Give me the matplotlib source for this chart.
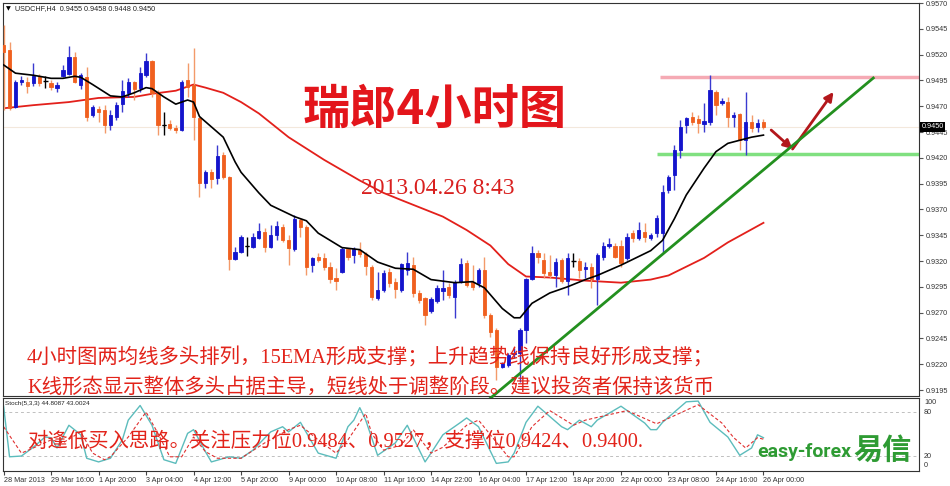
import numpy as np
import matplotlib.pyplot as plt
import matplotlib.transforms as mtrans

plt.rcParams['font.family'] = ['Liberation Sans', 'Noto Sans CJK SC', 'DejaVu Sans']

# USDCHF H4 candles
opens = [0.9529, 0.9524, 0.9469, 0.9493, 0.9493, 0.9492, 0.9498, 0.9494, 0.9492, 0.9488,
         0.9499, 0.9501, 0.9518, 0.9491, 0.9498, 0.9461, 0.9467, 0.9466, 0.9452, 0.9460,
         0.9472, 0.9483, 0.9493, 0.9488, 0.9500, 0.9514, 0.9483, 0.9452, 0.9453, 0.9449,
         0.9447, 0.9495, 0.9491, 0.9459, 0.9396, 0.9406, 0.9400, 0.9423, 0.9401, 0.9322,
         0.9329, 0.9335, 0.9334, 0.9342, 0.9348, 0.9334, 0.9345, 0.9353, 0.9340, 0.9332,
         0.9360, 0.9353, 0.9316, 0.9324, 0.9323, 0.9314, 0.9304, 0.9309, 0.9332, 0.9326,
         0.9331, 0.9327, 0.9314, 0.9284, 0.9292, 0.9309, 0.9300, 0.9292, 0.9311, 0.9316,
         0.9289, 0.9284, 0.9272, 0.9281, 0.9291, 0.9295, 0.9285, 0.9300, 0.9318, 0.9300,
         0.9299, 0.9311, 0.9268, 0.9253, 0.9217, 0.9219, 0.9230, 0.9231, 0.9253, 0.9303,
         0.9328, 0.9321, 0.9309, 0.9306, 0.9321, 0.9301, 0.9320, 0.9320, 0.9312, 0.9314,
         0.9303, 0.9324, 0.9335, 0.9335, 0.9335, 0.9323, 0.9347, 0.9342, 0.9348, 0.9342,
         0.9347, 0.9347, 0.9389, 0.9403, 0.9428, 0.9452, 0.9460, 0.9458, 0.9453, 0.9455,
         0.9484, 0.9473, 0.9474, 0.9460, 0.9462, 0.9437, 0.9455, 0.9450, 0.9455]
highs = [0.9549, 0.9532, 0.9495, 0.9499, 0.9498, 0.9512, 0.9501, 0.9499, 0.9495, 0.9493,
         0.9510, 0.9528, 0.9523, 0.9502, 0.9508, 0.9471, 0.9470, 0.9471, 0.9466, 0.9474,
         0.9495, 0.9497, 0.9494, 0.9508, 0.9522, 0.9515, 0.9486, 0.9464, 0.9457, 0.9452,
         0.9495, 0.9512, 0.9526, 0.9460, 0.9408, 0.9409, 0.9432, 0.9426, 0.9402, 0.9334,
         0.9345, 0.9343, 0.9347, 0.9357, 0.9352, 0.9355, 0.9359, 0.9356, 0.9345, 0.9365,
         0.9362, 0.9355, 0.9324, 0.9328, 0.9328, 0.9319, 0.9313, 0.9334, 0.9333, 0.9334,
         0.9338, 0.9329, 0.9316, 0.9309, 0.9311, 0.9313, 0.9304, 0.9318, 0.9329, 0.9324,
         0.9292, 0.9285, 0.9285, 0.9297, 0.9311, 0.9299, 0.9302, 0.9323, 0.9321, 0.9316,
         0.9313, 0.9324, 0.9270, 0.9255, 0.9222, 0.9231, 0.9236, 0.9255, 0.9304, 0.9335,
         0.9331, 0.9328, 0.9326, 0.9323, 0.9323, 0.9328, 0.9328, 0.9323, 0.9319, 0.9318,
         0.9328, 0.9338, 0.9342, 0.9337, 0.9340, 0.9347, 0.9350, 0.9358, 0.9357, 0.9347,
         0.9365, 0.9394, 0.9403, 0.9432, 0.9457, 0.9460, 0.9464, 0.9461, 0.9473, 0.9500,
         0.9486, 0.9478, 0.9479, 0.9464, 0.9463, 0.9484, 0.9461, 0.9458, 0.9458]
lows = [0.9466, 0.9466, 0.9468, 0.9491, 0.9483, 0.9490, 0.9490, 0.9488, 0.9486, 0.9484,
        0.9498, 0.9500, 0.9492, 0.9487, 0.9456, 0.9460, 0.9455, 0.9444, 0.9447, 0.9457,
        0.9464, 0.9479, 0.9476, 0.9484, 0.9498, 0.9479, 0.9442, 0.9442, 0.9447, 0.9444,
        0.9446, 0.9479, 0.9437, 0.9382, 0.9391, 0.9391, 0.9395, 0.9399, 0.9311, 0.9321,
        0.9328, 0.9325, 0.9333, 0.9341, 0.9329, 0.9333, 0.9340, 0.9338, 0.9316, 0.9330,
        0.9343, 0.9306, 0.9309, 0.9319, 0.9311, 0.9299, 0.9292, 0.9308, 0.9321, 0.9318,
        0.9324, 0.9306, 0.9282, 0.9282, 0.9290, 0.9295, 0.9284, 0.9290, 0.9306, 0.9285,
        0.9279, 0.9258, 0.9270, 0.9279, 0.9282, 0.9284, 0.9265, 0.9299, 0.9295, 0.9292,
        0.9295, 0.9265, 0.9246, 0.9205, 0.9216, 0.9217, 0.9226, 0.9203, 0.9241, 0.9302,
        0.9318, 0.9304, 0.9304, 0.9295, 0.9299, 0.9287, 0.9314, 0.9304, 0.9304, 0.9294,
        0.9277, 0.9321, 0.9333, 0.9323, 0.9314, 0.9321, 0.9338, 0.9340, 0.9338, 0.9340,
        0.9343, 0.9328, 0.9386, 0.9389, 0.9420, 0.9444, 0.9452, 0.9444, 0.9445, 0.9452,
        0.9461, 0.9471, 0.9450, 0.9450, 0.9428, 0.9423, 0.9445, 0.9445, 0.9448]
closes = [0.9523, 0.9468, 0.9493, 0.9495, 0.9490, 0.9499, 0.9492, 0.9494, 0.9489, 0.9491,
          0.9505, 0.9518, 0.9493, 0.9500, 0.9460, 0.9469, 0.9464, 0.9452, 0.9461, 0.9471,
          0.9485, 0.9493, 0.9487, 0.9502, 0.9514, 0.9483, 0.9452, 0.9452, 0.9449, 0.9447,
          0.9493, 0.9489, 0.9460, 0.9396, 0.9406, 0.9399, 0.9422, 0.9401, 0.9322, 0.9329,
          0.9343, 0.9335, 0.9343, 0.9349, 0.9334, 0.9345, 0.9354, 0.9340, 0.9333, 0.9361,
          0.9353, 0.9314, 0.9323, 0.9321, 0.9314, 0.9303, 0.9301, 0.9332, 0.9324, 0.9332,
          0.9327, 0.9315, 0.9285, 0.9292, 0.9308, 0.9299, 0.9293, 0.9317, 0.9318, 0.9289,
          0.9282, 0.9268, 0.9283, 0.9294, 0.9294, 0.9287, 0.9300, 0.9317, 0.9297, 0.9295,
          0.9311, 0.9268, 0.9251, 0.9217, 0.9221, 0.9229, 0.9231, 0.9253, 0.9303, 0.9328,
          0.9324, 0.9308, 0.9306, 0.9319, 0.9301, 0.9323, 0.9320, 0.9311, 0.9314, 0.9303,
          0.9326, 0.9335, 0.9336, 0.9324, 0.9318, 0.9343, 0.9342, 0.9350, 0.9343, 0.9345,
          0.9362, 0.9387, 0.9401, 0.9428, 0.9450, 0.9459, 0.9455, 0.9454, 0.9456, 0.9486,
          0.9471, 0.9475, 0.9460, 0.9461, 0.9437, 0.9455, 0.9449, 0.9454, 0.9450]

# moving averages (black 15 EMA, red long MA)
ema_bars = [0, 2, 5, 8, 10, 12, 13, 15, 18, 20, 22, 24, 25, 27, 29, 31, 32, 33, 35, 37, 39, 40,
            43, 45, 49, 51, 53, 57, 60, 63, 66, 69, 72, 76, 79, 81, 84, 86, 87, 89, 92, 95, 98,
            100, 104, 109, 111, 113, 115, 118, 120, 122, 124, 126, 128]
ema_vals = [0.9510, 0.9502, 0.9500, 0.9497, 0.9497, 0.9499, 0.9498, 0.9491, 0.9480, 0.9479,
            0.9483, 0.9488, 0.9487, 0.9479, 0.9472, 0.9476, 0.9474, 0.9460, 0.9450, 0.9440,
            0.9416, 0.9406, 0.9386, 0.9374, 0.9363, 0.9359, 0.9347, 0.9333, 0.9331, 0.9319,
            0.9313, 0.9312, 0.9302, 0.9299, 0.9300, 0.9294, 0.9274, 0.9265, 0.9265, 0.9279,
            0.9289, 0.9295, 0.9302, 0.9306, 0.9316, 0.9330, 0.9340, 0.9361, 0.9384, 0.9410,
            0.9426, 0.9434, 0.9437, 0.9440, 0.9442]
ma_bars = [0, 5, 11, 16, 22, 25, 29, 32, 34, 37, 40, 43, 48, 54, 60, 64, 67, 74, 78, 82, 85,
           88, 92, 98, 104, 109, 112, 118, 122, 128]
ma_vals = [0.9468, 0.9471, 0.9474, 0.9478, 0.9479, 0.9482, 0.9485, 0.9491, 0.9488, 0.9483,
           0.9474, 0.9463, 0.9440, 0.9418, 0.9398, 0.9386, 0.9379, 0.9363, 0.9350, 0.9335,
           0.9317, 0.9305, 0.9304, 0.9301, 0.9299, 0.9302, 0.9306, 0.9323, 0.9338, 0.9357]

# Stochastic(5,3,3)
stoch_bars = [0, 1, 3, 5, 7, 8, 9, 11, 13, 14, 16, 18, 20, 21, 23, 25, 27, 29, 31, 32, 34, 35,
              38, 40, 42, 45, 47, 48, 50, 53, 56, 58, 59, 60, 61, 63, 66, 68, 71, 72, 74, 77,
              78, 80, 83, 85, 86, 88, 90, 94, 95, 97, 99, 100, 104, 108, 109, 110, 111, 115,
              117, 119, 122, 124, 126, 127, 128]
stoch_main = [88, 19, 20, 32, 46, 45, 31, 62, 49, 17, 12, 17, 42, 69, 89, 62, 15, 10, 51, 56, 26, 12,
              19, 17, 28, 53, 60, 53, 66, 24, 17, 60, 69, 86, 69, 21, 38, 62, 12, 24, 49, 66,
              72, 60, 10, 12, 24, 66, 88, 60, 56, 69, 60, 69, 88, 65, 56, 56, 66, 94,
              95, 66, 46, 21, 31, 49, 45]
signal_bars = [0, 3, 5, 8, 10, 13, 15, 17, 18, 21, 24, 26, 28, 30, 32, 34, 36, 40, 44, 48, 50,
               53, 56, 58, 61, 62, 64, 67, 69, 72, 74, 78, 80, 85, 86, 89, 92, 96, 98, 105, 110,
               117, 121, 123, 125, 127, 128]
stoch_signal = [60, 24, 31, 42, 38, 53, 24, 15, 19, 46, 80, 51, 19, 19, 46, 26, 17, 17, 38, 56, 62,
                42, 24, 42, 78, 51, 28, 35, 56, 24, 32, 62, 69, 19, 19, 60, 82, 62, 69, 82, 64,
                90, 65, 45, 31, 45, 43]

x_labels = ['28 Mar 2013', '29 Mar 16:00', '1 Apr 20:00', '3 Apr 04:00', '4 Apr 12:00',
            '5 Apr 20:00', '9 Apr 00:00', '10 Apr 08:00', '11 Apr 16:00', '14 Apr 22:00',
            '16 Apr 04:00', '17 Apr 12:00', '18 Apr 20:00', '22 Apr 00:00', '23 Apr 08:00',
            '24 Apr 16:00', '26 Apr 00:00']
price_ticks = [0.9195, 0.9220, 0.9245, 0.9270, 0.9295, 0.9320, 0.9345, 0.9370, 0.9395,
               0.9420, 0.9445, 0.9470, 0.9495, 0.9520, 0.9545, 0.9570]

# hand drawn marks
resistance = 0.9498
support = 0.9424
trend_x = [76, 146.5]
trend_y = [0.91582, 0.94973]
arrow_pts = [(129.3, 0.94469), (132.9, 0.94285), (139.8, 0.94838)]

W, H = 950, 486
fig = plt.figure(figsize=(9.5, 4.86), dpi=100)


def box(x0, y0, x1, y1):
    return [x0 / W, 1 - y1 / H, (x1 - x0) / W, (y1 - y0) / H]


ax = fig.add_axes(box(3, 3, 919, 396))
ax2 = fig.add_axes(box(3, 398, 919, 471))
xlim = (-0.1, 154.2)

o = np.array(opens)
h = np.array(highs)
l = np.array(lows)
c = np.array(closes)
idx = np.arange(len(o))
blue, orange = '#1414cc', '#f0601f'
body_col = [blue if cc > oo else orange if cc < oo else 'black' for oo, cc in zip(o, c)]
wick_col = ['#3a3ad0' if cc > oo else '#f39a6a' if cc < oo else 'black' for oo, cc in zip(o, c)]

ax.axhline(0.9450, color='#f3e8dc', lw=0.8, zorder=1)
ax.plot(ma_bars, ma_vals, color='#e3201b', lw=1.3, zorder=2)
ax.vlines(idx, l, h, colors=wick_col, lw=1, zorder=3)
ax.bar(idx, np.abs(c - o), bottom=np.minimum(o, c), width=0.55, color=body_col,
       edgecolor=body_col, lw=0.6, zorder=4)
flat = c == o
ax.hlines(c[flat], idx[flat] - 0.4, idx[flat] + 0.4, color='black', lw=1, zorder=4)
ax.plot(ema_bars, ema_vals, color='black', lw=1.2, zorder=5)

ax.hlines(resistance, 110.5, xlim[1], color='#f5aab4', lw=2.5, zorder=2)
ax.hlines(support, 110, xlim[1], color='#80e080', lw=2.5, zorder=2)
ax.plot(trend_x, trend_y, color='#23901f', lw=2, clip_on=False, zorder=8)
for (x0, y0), (x1, y1) in zip(arrow_pts[:-1], arrow_pts[1:]):
    ax.annotate('', xy=(x1, y1), xytext=(x0, y0),
                arrowprops=dict(arrowstyle='-|>', color='#b3171b', lw=2,
                                mutation_scale=13, shrinkA=0, shrinkB=0))

ax.set_xlim(*xlim)
ax.set_ylim(0.91892, 0.9570)
ax.set_xticks([])
ax.yaxis.tick_right()
ax.set_yticks(price_ticks)
ax.set_yticklabels([f'{v:.4f}' for v in price_ticks])
ax.tick_params(axis='y', labelsize=5.2, length=3, color='#555', labelcolor='#333', pad=2)
ax.text(1.0025, 0.9450, '0.9450', transform=mtrans.blended_transform_factory(ax.transAxes, ax.transData),
        fontsize=5.2, color='white', va='center', ha='left', zorder=10,
        bbox=dict(facecolor='black', edgecolor='none', pad=1.2))

# stochastic panel
ax2.axhline(80, color='#c0c0c0', lw=0.7, ls=(0, (3, 3)))
ax2.axhline(20, color='#c0c0c0', lw=0.7, ls=(0, (3, 3)))
ax2.plot(stoch_bars, stoch_main, color='#5cbcbc', lw=1)
ax2.plot(signal_bars, stoch_signal, color='#e03030', lw=0.8, ls=(0, (3, 2)))
ax2.set_xlim(*xlim)
ax2.set_ylim(-0.4, 99.2)
ax2.set_yticks([])
ax2.set_xticks(range(0, 129, 8))
ax2.set_xticklabels(x_labels, ha='left')
ax2.tick_params(axis='x', labelsize=5.2, length=3, color='#444', labelcolor='#333', pad=1.5)

for a in (ax, ax2):
    for s in a.spines.values():
        s.set_color('#333')
        s.set_linewidth(0.8)

for txt, y in [('100', 403), ('80', 412), ('20', 456), ('0', 465)]:
    fig.text(924 / W, 1 - y / H, txt, fontsize=5.2, color='#333', va='center')

fig.text(6 / W, 1 - 9 / H, '▼', fontsize=4.5, va='center', family=['DejaVu Sans'])
fig.text(15 / W, 1 - 9 / H, 'USDCHF,H4  0.9455 0.9458 0.9448 0.9450', fontsize=5.2,
         color='#222', va='center')
fig.text(5 / W, 1 - 403 / H, 'Stoch(5,3,3) 44.8087 43.0024', fontsize=4.6, color='#222', va='center')

fig.text(435 / W, 1 - 110 / H, '瑞郎4小时图', fontsize=34, color='#e3151b', fontweight='bold',
         ha='center', va='center', family=['Noto Sans CJK SC'])
fig.text(438 / W, 1 - 188 / H, '2013.04.26 8:43', fontsize=17, color='#d9201f',
         ha='center', va='center', family=['Liberation Serif'])

notes = ['4小时图两均线多头排列，15EMA形成支撑；上升趋势线保持良好形成支撑；',
         'K线形态显示整体多头占据主导，短线处于调整阶段。建议投资者保持该货币',
         '对逢低买入思路。关注压力位0.9484、0.9527，支撑位0.9424、0.9400.']
for txt, y in zip(notes, [357, 388, 442]):
    fig.text(27 / W, 1 - y / H, txt, fontsize=14.7, color='#e2231a', ha='left', va='center',
             family=['Liberation Serif', 'Noto Sans CJK SC'], zorder=6)

fig.text(757 / W, 1 - 452 / H, 'easy-forex', fontsize=14, fontweight='bold', color='#2e9b33',
         va='center', family=['Roboto'])
fig.text(853 / W, 1 - 450 / H, '易信', fontsize=21, fontweight='bold', color='#2e9b33',
         va='center', family=['Noto Sans CJK SC'])

fig.savefig('out.png', dpi=100)
